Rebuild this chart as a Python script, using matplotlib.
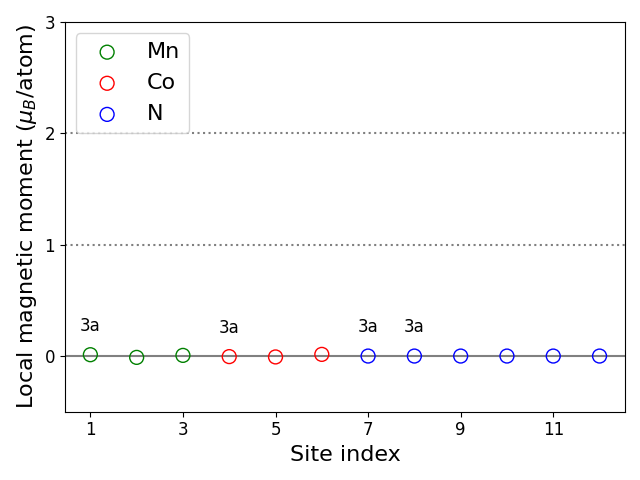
import matplotlib
matplotlib.use("Agg")
import matplotlib.pyplot as plt

# site indices and local moments per species
mn_sites = [1, 2, 3]
mn_moments = [0.012, -0.012, 0.006]
co_sites = [4, 5, 6]
co_moments = [-0.005, -0.008, 0.015]
n_sites = [7, 8, 9, 10, 11, 12]
n_moments = [0.0, 0.0, 0.0, 0.0, 0.0, 0.0]

# Wyckoff labels
label_sites = [1, 4, 7, 8]
label_text = ["3a", "3a", "3a", "3a"]

fig, ax = plt.subplots(figsize=(6.4, 4.8), dpi=100)
ax.axhline(0, color="gray", lw=1.5, zorder=1)
ax.axhline(1, color="gray", ls=":", lw=1.5)
ax.axhline(2, color="gray", ls=":", lw=1.5)

ax.scatter(mn_sites, mn_moments, s=100, facecolors="none", edgecolors="green", label="Mn", zorder=3)
ax.scatter(co_sites, co_moments, s=100, facecolors="none", edgecolors="red", label="Co", zorder=3)
ax.scatter(n_sites, n_moments, s=100, facecolors="none", edgecolors="blue", label="N", zorder=3)

all_sites = mn_sites + co_sites + n_sites
all_moments = mn_moments + co_moments + n_moments
for s, t in zip(label_sites, label_text):
    m = all_moments[all_sites.index(s)]
    ax.text(s, m + 0.18, t, ha="center", va="bottom", fontsize=12)

ax.set_ylim(-0.5, 3)
ax.set_xticks([1, 3, 5, 7, 9, 11])
ax.set_yticks([0, 1, 2, 3])
ax.tick_params(labelsize=12)
ax.set_xlabel("Site index", fontsize=16)
ax.set_ylabel(r"Local magnetic moment ($\mu_B$/atom)", fontsize=16)
ax.legend(loc="upper left", fontsize=16)
plt.tight_layout()
plt.savefig("out.png")
